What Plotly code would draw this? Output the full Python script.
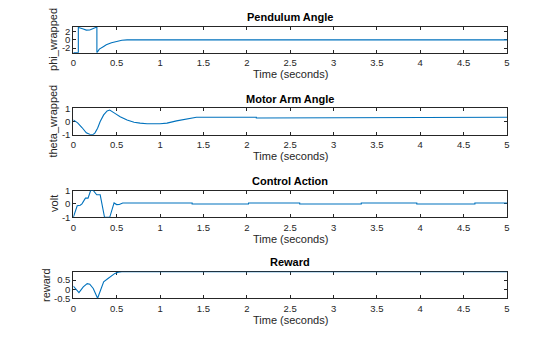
import plotly.graph_objects as go

# ---------------- data ----------------
t_phi = [0, 0.058, 0.058, 0.07, 0.115, 0.15, 0.19, 0.23, 0.26, 0.272, 0.272, 0.3, 0.35, 0.38, 0.44, 0.5, 0.56, 0.62, 5]
phi_wrapped = [-3.1, -3.1, 3.1, 2.95, 2.68, 2.38, 2.42, 2.74, 3.05, 3.14, -3.14, -2.25, -1.6, -1.2, -0.7, -0.32, -0.08, 0, 0]

t_theta = [0, 0.05, 0.1, 0.15, 0.2, 0.23, 0.25, 0.28, 0.31, 0.35, 0.39, 0.42, 0.48, 0.54, 0.62, 0.7, 0.77, 0.85, 1.0,
           1.08, 1.19, 1.3, 1.42, 1.46, 2.11, 2.11, 2.48, 2.48, 5]
theta_wrapped = [0.125, -0.1, -0.45, -0.85, -1.0, -0.97, -0.85, -0.5, 0.0, 0.5, 0.8, 0.87, 0.62, 0.37, 0.12, -0.05, -0.12,
                 -0.17, -0.17, -0.12, 0.05, 0.2, 0.32, 0.33, 0.33, 0.27, 0.27, 0.32, 0.32]

t_volt = [0, 0.045, 0.08, 0.1, 0.14, 0.17, 0.2, 0.23, 0.27, 0.31, 0.36, 0.42, 0.47, 0.5, 0.53, 0.57, 1.37, 1.37,
          2.02, 2.02, 2.61, 2.61, 3.32, 3.32, 3.96, 3.96, 4.63, 4.63, 5]
volt = [-1, -0.14, -0.1, 0.0, 0.43, 0.43, 1.0, 1.0, 0.68, 0.68, -1, -1, 0.07, -0.05, -0.04, 0.07, 0.07, -0.01,
        -0.01, 0.07, 0.07, -0.01, -0.01, 0.07, 0.07, -0.01, -0.01, 0.07, 0.07]

t_reward = [0, 0.065, 0.115, 0.16, 0.19, 0.23, 0.28, 0.31, 0.35, 0.4, 0.44, 0.48, 0.52, 0.56, 5]
reward = [0.17, -0.19, 0.13, 0.31, 0.28, 0.04, -0.5, -0.15, 0.41, 0.59, 0.72, 0.87, 0.94, 0.96, 0.96]

titles = ["Pendulum Angle", "Motor Arm Angle", "Control Action", "Reward"]
ylabels = ["phi_wrapped", "theta_wrapped", "volt", "reward"]
xlabel = "Time (seconds)"
x_ticks = [0, 0.5, 1, 1.5, 2, 2.5, 3, 3.5, 4, 4.5, 5]
x_ticktext = ["0", "0.5", "1", "1.5", "2", "2.5", "3", "3.5", "4", "4.5", "5"]
y_ticks = [[-2, 0, 2], [-1, 0, 1], [-1, 0, 1], [-0.5, 0, 0.5]]
y_ticktext = [["-2", "0", "2"], ["-1", "0", "1"], ["-1", "0", "1"], ["-0.5", "0", "0.5"]]
y_ranges = [[-3.1416, 3.1416], [-1, 1], [-1, 1], [-0.5, 0.965]]

series = [(t_phi, phi_wrapped), (t_theta, theta_wrapped), (t_volt, volt), (t_reward, reward)]

# ---------------- layout geometry ----------------
W, H = 560, 337
x_left, x_right = 73.3, 507.0
x_dom = [x_left / W, x_right / W]
tops = [27.0, 108.3, 190.5, 271.7]
bots = [52.8, 134.8, 217.3, 298.3]
ylabel_x = [53, 53, 54, 46]

FONT = "Liberation Sans, Arial, sans-serif"
AX = "#262626"
LINE = "#0072BD"

fig = go.Figure()
annotations = []
layout = dict(
    width=W, height=H, autosize=False,
    margin=dict(l=0, r=0, t=0, b=0),
    paper_bgcolor="white", plot_bgcolor="white",
    showlegend=False,
    font=dict(family=FONT, size=10, color=AX),
)

for i, (tx, ty) in enumerate(series):
    n = "" if i == 0 else str(i + 1)
    fig.add_trace(go.Scatter(x=tx, y=ty, mode="lines", line=dict(color=LINE, width=1.1),
                             xaxis="x" + n, yaxis="y" + n, hoverinfo="skip"))
    ydom = [1 - bots[i] / H, 1 - tops[i] / H]
    common = dict(showline=True, linecolor=AX, linewidth=1, mirror="ticks", ticks="inside",
                  ticklen=3, tickcolor=AX, showgrid=False, zeroline=False, automargin=False,
                  tickfont=dict(family=FONT, size=9.5, color=AX), layer="below traces")
    layout["xaxis" + n] = dict(domain=x_dom, range=[0, 5], anchor="y" + n,
                               tickvals=x_ticks, ticktext=x_ticktext, ticklabelstandoff=1, **common)
    layout["yaxis" + n] = dict(domain=ydom, range=y_ranges[i], anchor="x" + n,
                               tickvals=y_ticks[i], ticktext=y_ticktext[i], **common)
    # subplot title
    annotations.append(dict(
        text="<b>" + titles[i] + "</b>", xref="paper", yref="paper",
        x=(x_left + x_right) / 2 / W, y=1 - (tops[i] - 9.5) / H,
        xanchor="center", yanchor="middle", showarrow=False,
        font=dict(family=FONT, size=11, color="black")))
    # x label
    annotations.append(dict(
        text=xlabel, xref="paper", yref="paper",
        x=(x_left + x_right) / 2 / W, y=1 - (bots[i] + 21.5) / H,
        xanchor="center", yanchor="middle", showarrow=False,
        font=dict(family=FONT, size=11, color=AX)))
    # y label
    annotations.append(dict(
        text=ylabels[i], xref="paper", yref="paper", textangle=-90,
        x=ylabel_x[i] / W, y=1 - (tops[i] + bots[i]) / 2 / H,
        xanchor="center", yanchor="middle", showarrow=False,
        font=dict(family=FONT, size=11, color=AX)))

layout["annotations"] = annotations
fig.update_layout(**layout)
fig.write_html("out.html")
